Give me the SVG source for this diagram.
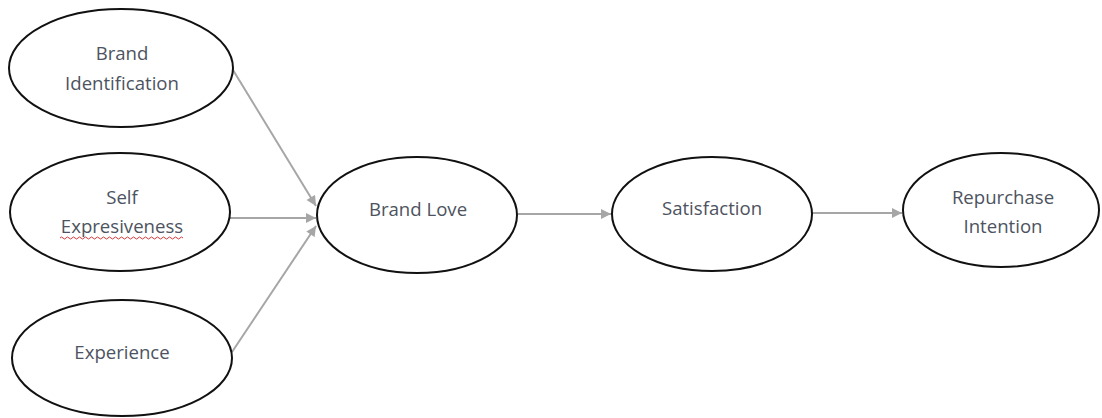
<svg xmlns="http://www.w3.org/2000/svg" width="1102" height="418" viewBox="0 0 1102 418">
  <style>
    .node ellipse { fill: #ffffff; stroke: #111111; stroke-width: 2; }
    .node text { font-family: "Open Sans", "Liberation Sans", sans-serif; font-size: 18.6px; fill: #4d5360; text-anchor: middle; }
    .edge { stroke: #a6a6a6; stroke-width: 2; fill: none; marker-end: url(#arrow); }
  </style>
  <defs>
    <marker id="arrow" viewBox="0 0 10 10" refX="10" refY="5" markerWidth="11" markerHeight="10" markerUnits="userSpaceOnUse" orient="auto">
      <path d="M0,0 L10,5 L0,10 z" fill="#a6a6a6"/>
    </marker>
  </defs>
  <rect width="1102" height="418" fill="#ffffff"/>

  <g id="connectors">
    <line class="edge" x1="233" y1="70" x2="316" y2="206"/>
    <line class="edge" x1="230" y1="218" x2="316" y2="218"/>
    <line class="edge" x1="232" y1="352" x2="316" y2="226"/>
    <line class="edge" x1="518" y1="214" x2="611" y2="214"/>
    <line class="edge" x1="812" y1="213" x2="902" y2="213"/>
  </g>

  <g id="brand-identification" class="node">
    <ellipse cx="121" cy="68" rx="112" ry="59"/>
    <text x="122" y="60">Brand</text>
    <text x="122" y="90">Identification</text>
  </g>

  <g id="self-expressiveness" class="node">
    <ellipse cx="120" cy="212" rx="110" ry="59"/>
    <text x="122" y="204">Self</text>
    <text x="122" y="233">Expresiveness</text>
    <!-- spell-check underline -->
    <path d="M60,238 q1.5,-2 3,0 t3,0 t3,0 t3,0 t3,0 t3,0 t3,0 t3,0 t3,0 t3,0 t3,0 t3,0 t3,0 t3,0 t3,0 t3,0 t3,0 t3,0 t3,0 t3,0 t3,0 t3,0 t3,0 t3,0 t3,0 t3,0 t3,0 t3,0 t3,0 t3,0 t3,0 t3,0 t3,0 t3,0 t3,0 t3,0 t3,0 t3,0 t3,0 t3,0 t3,0" fill="none" stroke="#d23a3a" stroke-width="1"/>
  </g>

  <g id="experience" class="node">
    <ellipse cx="122" cy="358" rx="110" ry="58"/>
    <text x="122" y="359">Experience</text>
  </g>

  <g id="brand-love" class="node">
    <ellipse cx="417" cy="215" rx="100" ry="58"/>
    <text x="418" y="216">Brand Love</text>
  </g>

  <g id="satisfaction" class="node">
    <ellipse cx="712" cy="214" rx="100" ry="57"/>
    <text x="712" y="215">Satisfaction</text>
  </g>

  <g id="repurchase-intention" class="node">
    <ellipse cx="1001" cy="210" rx="98" ry="57"/>
    <text x="1003" y="204">Repurchase</text>
    <text x="1003" y="233">Intention</text>
  </g>
</svg>
